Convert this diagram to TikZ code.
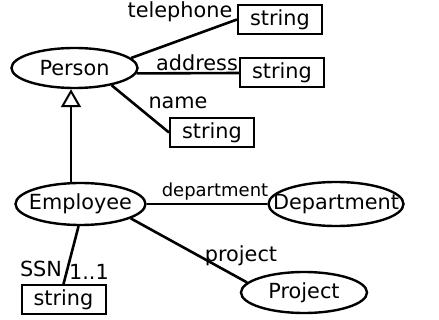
\documentclass[tikz,border=0pt]{standalone}
\usepackage{fontspec}
\setmainfont{DejaVu Sans}
\usetikzlibrary{shapes.geometric,arrows.meta}
\newcommand{\entity}[5]
{
	\node[entity,minimum width=#4,minimum height=#5] (#1) at (#2) {\makebox[0pt]{#3}};
}
\newcommand{\datatype}[2]
{
	\node[datatype] (#1) at (#2) {string};
}
\tikzset{
	entity/.style={draw,ellipse,line width=1.2pt,inner sep=0pt},
	datatype/.style={draw,rectangle,line width=1pt,minimum width=42pt,minimum height=14.5pt,inner sep=0pt},
	link/.style={line width=1.3pt},
	isa/.style={line width=1.3pt,-{Triangle[open,length=9pt,width=10pt,line width=1pt]}},
	role/.style={inner sep=0pt}
}

\begin{document}
\begin{tikzpicture}[x=0.5pt,y=-0.5pt,font=\fontsize{10.4}{12}\selectfont]
	\useasboundingbox (0,0) rectangle (439,320);
	\entity{person}{74.5,68}{Person}{63pt}{20pt}
	\entity{employee}{80.5,204}{Employee}{65pt}{21pt}
	\entity{dept}{336,204}{Department}{67.5pt}{22pt}
	\entity{proj}{304,292.5}{Project}{63pt}{20.5pt}
	\datatype{tel}{280,19.5}
	\datatype{addr}{282,73}
	\datatype{nm}{212,132.5}
	\datatype{ssn}{63.5,299.5}
	\draw[link] (person.10) -- (tel.west);
	\draw[link] (person.-5) -- (addr.west);
	\draw[link] (person.-25) -- (nm.west);
	\coordinate (isax) at (71,0);
	\draw[isa] (employee.north -| isax) -- (person.south -| isax);
	\draw[link] (employee.east) -- (dept.west);
	\draw[link] (employee.-16) -- (proj.170);
	\draw[link] (employee.265) -- (ssn.north);
	\node[role] (ltel) at (180,12) {telephone};
	\node[role] (laddr) at (197,63) {address};
	\node[role] (lnm) at (178,103) {name};
	\node[role,font=\fontsize{9}{11}\selectfont] (ldept) at (215,192) {department};
	\node[role] (lproj) at (241,256) {project};
	\node[role] (lssn) at (41,269) {SSN};
	\node[role] (lcard) at (89,272) {1..1};
\end{tikzpicture}
\end{document}
